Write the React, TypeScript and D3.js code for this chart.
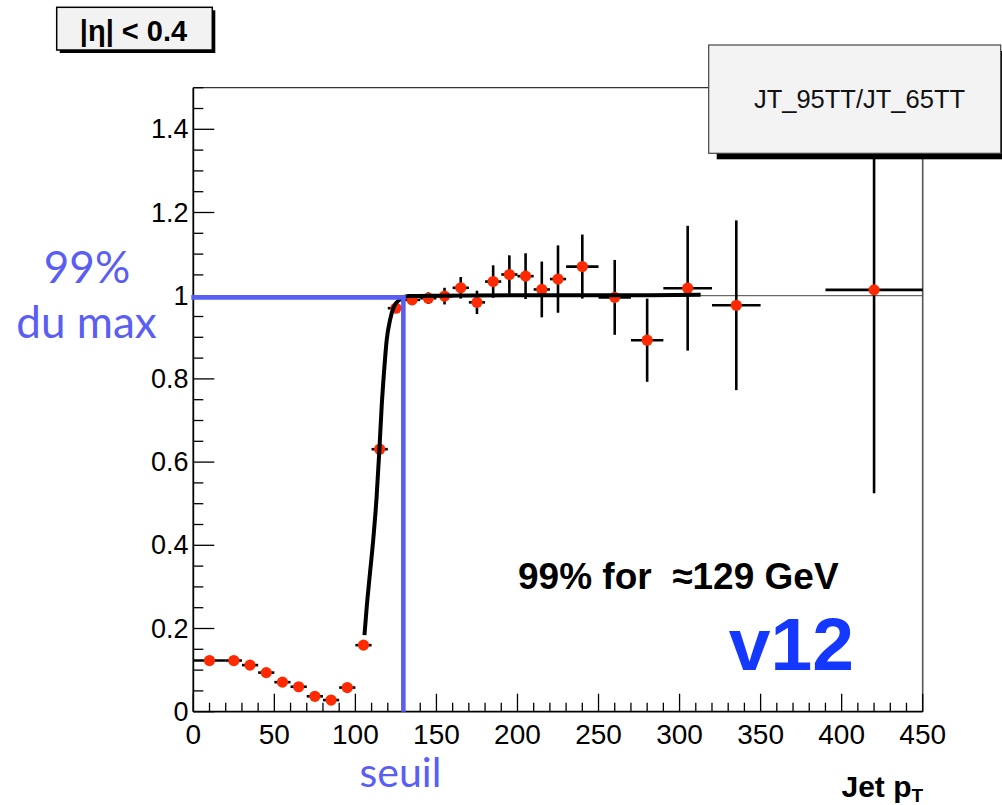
import React, { useEffect } from "react";
import * as d3 from "d3";

// ---- data ----
const binCenters = [10, 25, 35, 45, 55, 65, 75, 85, 95, 105, 115, 125, 135, 145, 155, 165, 175, 185, 195, 205, 215, 225, 240, 260, 280, 305, 335, 420];
const binHalfWidths = [10, 5, 5, 5, 5, 5, 5, 5, 5, 5, 5, 5, 5, 5, 5, 5, 5, 5, 5, 5, 5, 5, 10, 10, 10, 15, 15, 30];
const ratioValues = [0.123, 0.123, 0.112, 0.094, 0.071, 0.060, 0.037, 0.028, 0.058, 0.160, 0.631, 0.970, 0.990, 0.994, 0.999, 1.019, 0.984, 1.034, 1.051, 1.047, 1.015, 1.040, 1.070, 0.996, 0.893, 1.018, 0.977, 1.014];
const ratioErrors = [0.003, 0.003, 0.003, 0.003, 0.003, 0.003, 0.003, 0.003, 0.003, 0.005, 0.008, 0.008, 0.008, 0.014, 0.020, 0.026, 0.028, 0.039, 0.046, 0.055, 0.067, 0.081, 0.077, 0.090, 0.100, 0.150, 0.204, 0.489];

const fitX = [105.6, 107, 109, 111, 113.1, 114.8, 116.2, 117.6, 119.3, 121.4, 123.8, 127.5, 132.6, 150, 200, 250, 313];
const fitY = [0.184, 0.252, 0.333, 0.413, 0.517, 0.629, 0.733, 0.813, 0.893, 0.942, 0.974, 0.991, 0.999, 1.0, 1.001, 1.001, 1.002];

const xTickValues = [0, 50, 100, 150, 200, 250, 300, 350, 400, 450];
const xTickLabels = ["0", "50", "100", "150", "200", "250", "300", "350", "400", "450"];
const yTickValues = [0, 0.2, 0.4, 0.6, 0.8, 1.0, 1.2, 1.4];
const yTickLabels = ["0", "0.2", "0.4", "0.6", "0.8", "1", "1.2", "1.4"];

const thresholdX = 129.6;
const level99 = 0.996;
const referenceLevel = 1.0;

const legendText = "JT_95TT/JT_65TT";
const etaText = "|η| < 0.4";
const noteText = "99% for  ≈129 GeV";
const versionText = "v12";

// ---- layout ----
const W = 1002;
const H = 805;
const xScale = d3.scaleLinear().domain([0, 450]).range([193.3, 922.7]);
const yScale = d3.scaleLinear().domain([0, 1.5]).range([711.7, 87.7]);

const SANS = "'Liberation Sans', Arial, Helvetica, sans-serif";
const HUMAN = "Lato, 'Open Sans', sans-serif";
const BLUE = "#5a5ef2";
const RED = "#ff2a00";

export default function App() {
  useEffect(() => {
    document.body.style.margin = "0";
  }, []);

  const xMinor = d3.range(0, 451, 10);
  const yMinor = d3.range(0, 1.5001, 0.05);
  const line = d3
    .line<number>()
    .x((_, i) => xScale(fitX[i]))
    .y((d) => yScale(d))
    .curve(d3.curveMonotoneX);

  const x0 = xScale(0);
  const x1 = xScale(450);
  const y0 = yScale(0);
  const yTop = yScale(1.5);

  return (
    <svg width={W} height={H} style={{ display: "block", background: "#fff" }}>
      {/* frame top/right */}
      <line x1={x0} y1={yTop} x2={x1} y2={yTop} stroke="#333" strokeWidth={1.2} />
      <line x1={x1} y1={yTop} x2={x1} y2={y0} stroke="#555" strokeWidth={1.6} />

      {/* reference line at 1 */}
      <line x1={x0} x2={x1} y1={yScale(referenceLevel)} y2={yScale(referenceLevel)} stroke="#444" strokeWidth={1} />

      {/* x ticks */}
      {xMinor.map((v) => {
        const major = v % 50 === 0;
        return (
          <line key={"xm" + v} x1={xScale(v)} x2={xScale(v)} y1={y0} y2={y0 - (major ? 18 : 9)} stroke="#000" strokeWidth={1.3} />
        );
      })}
      {/* y ticks */}
      {yMinor.map((v, i) => {
        const major = i % 4 === 0;
        return (
          <line key={"ym" + i} x1={x0} x2={x0 + (major ? 21 : 10)} y1={yScale(v)} y2={yScale(v)} stroke="#000" strokeWidth={1.3} />
        );
      })}
      {/* axes */}
      <line x1={x0} y1={y0} x2={x1} y2={y0} stroke="#000" strokeWidth={1.8} />
      <line x1={x0} y1={y0} x2={x0} y2={yTop} stroke="#000" strokeWidth={1.8} />

      {xTickValues.map((v, i) => (
        <text key={"xl" + v} x={xScale(v)} y={743.5} textAnchor="middle" fontFamily={SANS} fontSize={28} fill="#000">
          {xTickLabels[i]}
        </text>
      ))}
      {yTickValues.map((v, i) => (
        <text key={"yl" + v} x={188.5} y={yScale(v) + 9} textAnchor="end" fontFamily={SANS} fontSize={27} fill="#000">
          {yTickLabels[i]}
        </text>
      ))}

      {/* error bars */}
      {binCenters.map((c, i) => (
        <g key={"e" + i} stroke="#000" strokeWidth={2.6}>
          <line x1={xScale(c - binHalfWidths[i])} x2={xScale(c + binHalfWidths[i])} y1={yScale(ratioValues[i])} y2={yScale(ratioValues[i])} />
          <line x1={xScale(c)} x2={xScale(c)} y1={yScale(Math.min(1.5, ratioValues[i] + ratioErrors[i]))} y2={yScale(ratioValues[i] - ratioErrors[i])} />
        </g>
      ))}
      {/* markers */}
      {binCenters.map((c, i) => (
        <circle key={"m" + i} cx={xScale(c)} cy={yScale(ratioValues[i])} r={5.6} fill={RED} />
      ))}

      {/* fit */}
      <path d={line(fitY) || ""} fill="none" stroke="#000" strokeWidth={4} strokeLinecap="butt" />

      {/* blue annotation */}
      <line x1={x0 - 2} x2={xScale(thresholdX) + 2.3} y1={yScale(level99)} y2={yScale(level99)} stroke={BLUE} strokeWidth={4.6} />
      <line x1={xScale(thresholdX)} x2={xScale(thresholdX)} y1={yScale(level99) - 2.3} y2={y0} stroke={BLUE} strokeWidth={4.6} />
      <text x={87} y={283} textAnchor="middle" fontFamily={HUMAN} fontSize={44} fill={BLUE}>99%</text>
      <text x={86.5} y={338} textAnchor="middle" fontFamily={HUMAN} fontSize={44} fill={BLUE}>du max</text>
      <text x={400.5} y={787} textAnchor="middle" fontFamily={HUMAN} fontSize={41} fill={BLUE}>seuil</text>

      {/* notes */}
      <text x={518} y={588.5} fontFamily={SANS} fontWeight="bold" fontSize={37} fill="#000" style={{ whiteSpace: "pre" }}>{noteText}</text>
      <text x={854} y={670} textAnchor="end" fontFamily={SANS} fontWeight="bold" fontSize={75} fill="#1438ff">{versionText}</text>

      {/* axis title */}
      <text x={841.5} y={797} fontFamily={SANS} fontWeight="bold" fontSize={30} fill="#000">
        Jet p
        <tspan fontSize={19} dy={5}>T</tspan>
      </text>

      {/* legend box */}
      <rect x={716.7} y={51} width={292} height={108.3} fill="#000" />
      <rect x={708.7} y={45} width={292} height={108.3} fill="#f3f3f3" stroke="#444" strokeWidth={1.2} />
      <text x={859.5} y={108} textAnchor="middle" fontFamily={SANS} fontSize={25.5} fill="#111">{legendText}</text>

      {/* eta box */}
      <rect x={59.7} y={10.3} width={155.6} height={42.7} fill="#000" />
      <rect x={56.7} y={7.3} width={155.6} height={42.7} fill="#f2f2f2" stroke="#000" strokeWidth={1.5} />
      <text x={133.5} y={41} textAnchor="middle" fontFamily={SANS} fontWeight="bold" fontSize={29} fill="#000">{etaText}</text>
    </svg>
  );
}
